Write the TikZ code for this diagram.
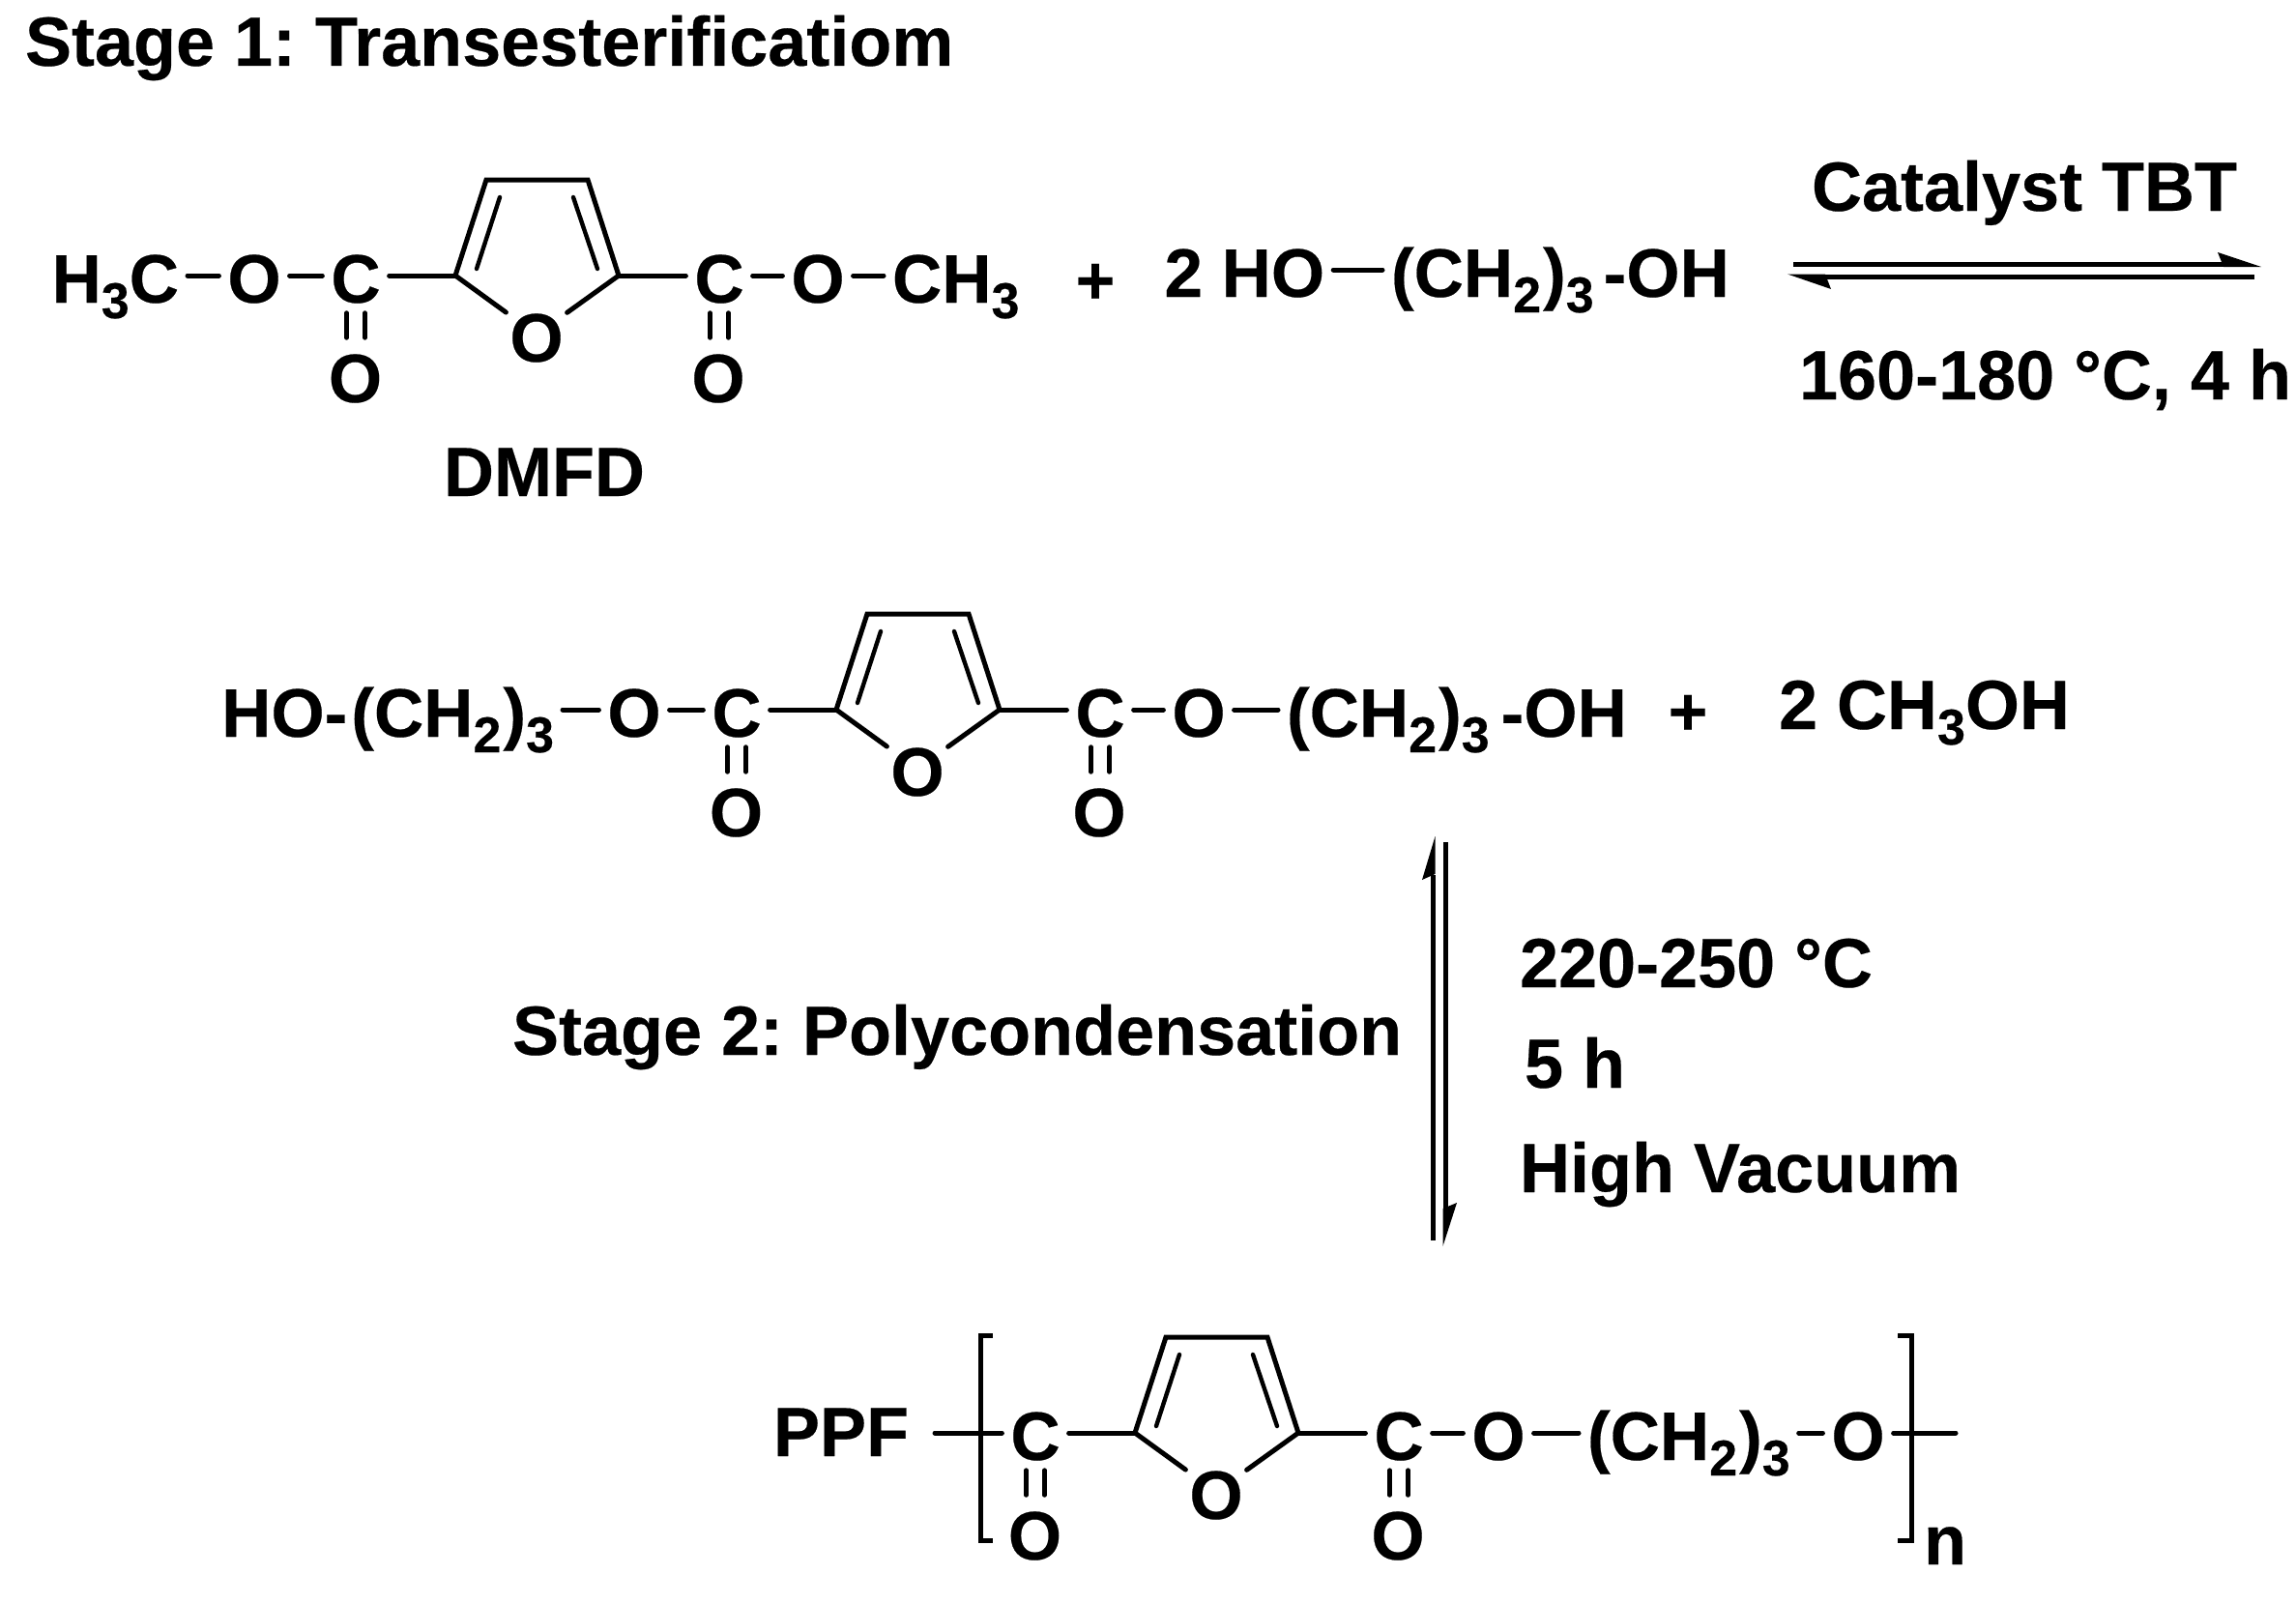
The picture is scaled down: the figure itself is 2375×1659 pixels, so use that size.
\documentclass[tikz,border=0pt]{standalone}
\usepackage{fontspec}
\setmainfont{Liberation Sans}[BoldFeatures={FakeBold=0.3}]
\frenchspacing
\newcommand{\sbs}[1]{\raisebox{-16pt}{\fontsize{52}{52}\selectfont #1}}
\newcommand{\chain}{(CH\sbs{2}\kern2pt)\sbs{3}}
\tikzset{
  x=1pt,y=-1pt,
  atom/.style={inner sep=0pt,outer xsep=9pt,outer ysep=10.5pt,text height=56pt,text depth=0pt,font=\fontsize{71}{84}\selectfont\bfseries},
  ringatom/.style={atom,outer xsep=4pt},
  lab/.style={inner sep=0pt,outer sep=0pt,anchor=base west,font=\fontsize{72}{86}\selectfont\bfseries},
  plussign/.style={inner sep=0pt,outer sep=0pt,anchor=base,font=\fontsize{70}{80}\selectfont\bfseries},
  bond/.style={line width=5pt,line cap=round},
  ringbond/.style={line width=5pt,line cap=round,line join=miter},
  thinbond/.style={line width=4.4pt,line cap=round},
  bar/.style={line width=5pt},
  tip/.style={fill=black,draw=none},
  brk/.style={line width=5pt,line join=miter}
}
% furan core with its two carbonyl groups; #1 name prefix, #2 #3 shift
\newcommand{\furancore}[3]{%
\begin{scope}[shift={(#2,#3)}]
  \coordinate (#1a) at (471,285);
  \coordinate (#1b) at (503,186);
  \coordinate (#1c) at (608,186);
  \coordinate (#1d) at (640,285);
  \coordinate (#1e) at (517,204);
  \coordinate (#1f) at (493,278);
  \coordinate (#1g) at (593,204);
  \coordinate (#1h) at (618,278);
  \node[ringatom] (#1R) at (555,346) {O};
  \node[atom] (#1C) at (368,285) {C};
  \node[atom] (#1D) at (744,285) {C};
  \node[atom] (#1P) at (367.5,388) {O};
  \node[atom] (#1Q) at (743,388) {O};
  \draw[ringbond] (#1R) -- (#1a) -- (#1b) -- (#1c) -- (#1d) -- (#1R);
  \draw[thinbond] (#1e) -- (#1f);
  \draw[thinbond] (#1g) -- (#1h);
  \draw[bond] (#1C) -- (#1a);
  \draw[bond] (#1d) -- (#1D);
  \draw[thinbond] ([xshift=-9.5pt]#1C.south) -- ([xshift=-9.5pt]#1C.south |- #1P.north);
  \draw[thinbond] ([xshift=9.5pt]#1C.south) -- ([xshift=9.5pt]#1C.south |- #1P.north);
  \draw[thinbond] ([xshift=-9.5pt]#1D.south) -- ([xshift=-9.5pt]#1D.south |- #1Q.north);
  \draw[thinbond] ([xshift=9.5pt]#1D.south) -- ([xshift=9.5pt]#1D.south |- #1Q.north);
\end{scope}}
\begin{document}
\begin{tikzpicture}
\fill[white] (0,0) rectangle (2375,1659);
\useasboundingbox (0,0) rectangle (2375,1659);

\node[lab] (stageone) at (26,68) {Stage 1: Transesterificatiom};

% first molecule
\furancore{m}{0}{0}
\node[atom,anchor=east] (mme) at (194,285) {H\sbs{3}C};
\node[atom] (mol) at (263,285) {O};
\node[atom] (mor) at (846,285) {O};
\node[atom,anchor=west] (mmf) at (914,285) {CH\sbs{3}};
\draw[bond] (mme) -- (mol);
\draw[bond] (mol) -- (mC);
\draw[bond] (mD) -- (mor);
\draw[bond] (mor) -- (mmf);
\node[lab] (dmfd) at (459,513) {DMFD};
\node[plussign] (plusa) at (1133,314) {+};

% propanediol
\node[atom,anchor=west] (two) at (1195.5,279) {2 HO};
\node[atom,anchor=west] (diol) at (1430,279) {\chain\kern10pt-OH};
\draw[bond] (two) -- (diol);

% first equilibrium arrow
\coordinate (ea) at (1855,273.5);
\coordinate (eb) at (2302,273.5);
\coordinate (ec) at (2339,276);
\coordinate (ed) at (2294,261);
\coordinate (ee) at (2300,276);
\coordinate (ef) at (2332,286);
\coordinate (eg) at (1886,286);
\coordinate (eh) at (1849,283.5);
\coordinate (ei) at (1894,299);
\coordinate (ej) at (1888,283.5);
\draw[bar] (ea) -- (eb);
\fill[tip] (ec) -- (ed) -- (ee) -- cycle;
\draw[bar] (ef) -- (eg);
\fill[tip] (eh) -- (ei) -- (ej) -- cycle;
\node[lab] (cat) at (1874,218) {Catalyst TBT};
\node[lab] (cond) at (1861,413) {160-180 °C, 4 h};

% second molecule
\furancore{n}{394}{449}
\node[atom,anchor=east] (nl) at (582,734) {HO-\kern4pt\chain};
\node[atom] (nol) at (656,734) {O};
\node[atom] (nor) at (1240,734) {O};
\node[atom,anchor=west] (nr) at (1322,734) {\chain\kern12pt-OH};
\draw[bond] (nl) -- (nol);
\draw[bond] (nol) -- (nC);
\draw[bond] (nD) -- (nor);
\draw[bond] (nor) -- (nr);
\node[plussign] (plusb) at (1746,760) {+};
\node[lab] (meoh) at (1840,754) {2 CH\sbs{3}OH};

% second equilibrium arrow
\coordinate (va) at (1482,1283);
\coordinate (vb) at (1482,905);
\coordinate (vc) at (1484.5,865);
\coordinate (vd) at (1471,910);
\coordinate (ve) at (1484.5,904);
\coordinate (vf) at (1495,871);
\coordinate (vg) at (1495,1250);
\coordinate (vh) at (1492.5,1289);
\coordinate (vi) at (1507,1244);
\coordinate (vj) at (1492.5,1250);
\draw[bar] (va) -- (vb);
\fill[tip] (vc) -- (vd) -- (ve) -- cycle;
\draw[bar] (vf) -- (vg);
\fill[tip] (vh) -- (vi) -- (vj) -- cycle;
\node[lab] (stagetwo) at (530,1091) {Stage 2: Polycondensation};
\node[lab] (tempb) at (1572,1021) {220-250 °C};
\node[lab] (timeb) at (1577,1125) {5 h};
\node[lab] (vac) at (1572,1233) {High Vacuum};

% polymer
\node[lab] (ppf) at (800,1506) {PPF};
\furancore{p}{703}{1197}
\coordinate (pl) at (967,1482);
\node[atom] (por) at (1550,1482) {O};
\node[atom,anchor=west] (pch) at (1633,1482) {\chain};
\node[atom] (poe) at (1922,1482) {O};
\coordinate (pe) at (2023,1482);
\draw[bond] (pl) -- (pC);
\draw[bond] (pD) -- (por);
\draw[bond] (por) -- (pch);
\draw[bond] (pch) -- (poe);
\draw[bond] (poe) -- (pe);
\draw[brk] (1027,1381) -- (1014,1381) -- (1014,1593.5) -- (1027,1593.5);
\draw[brk] (1963,1381) -- (1977,1381) -- (1977,1593.5) -- (1963,1593.5);
\node[lab] (nsub) at (1990,1618) {n};
\end{tikzpicture}
\end{document}
